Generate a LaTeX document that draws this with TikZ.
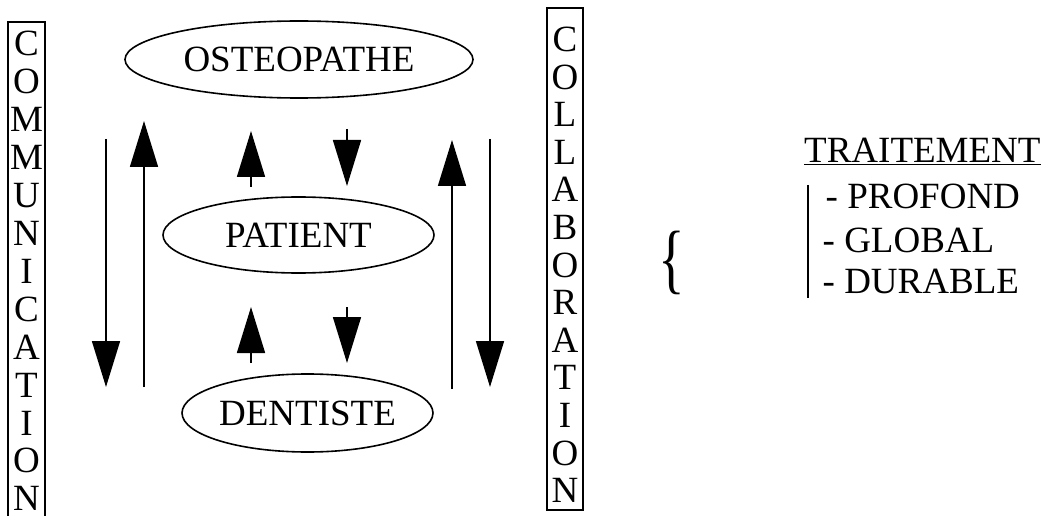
\documentclass[tikz,border=0pt]{standalone}
\usepackage{fontspec}
\setmainfont{Liberation Serif}
\usetikzlibrary{shapes.geometric,arrows.meta}

\begin{document}
\begin{tikzpicture}[
    x = 1pt, y = -1pt,
    every node/.style = {font = \fontsize{37}{38}\selectfont, inner sep = 0pt},
    person/.style = {ellipse, draw, line width = 1.6pt},
    letterbox/.style = {draw, line width = 2.2pt, minimum width = 37pt},
    letter/.style = {anchor = base},
    flow/.style = {line width = 1.6pt, -{Triangle[width = 28pt, length = 46pt]}}]

\clip (0,0) rectangle (1045,516);
\useasboundingbox (0,0) rectangle (1045,516);

\node[letterbox, minimum height = 520pt] (comm) at (26.5,282) {};
\foreach \l [count = \i from 0] in {C,O,M,M,U,N,I,C,A,T,I,O,N}
    \node[letter] (comm\i) at (26.5,56+37.9*\i) {\l};
\node[letterbox, minimum width = 36pt, minimum height = 502pt] (colla) at (565,259) {};
\foreach \l [count = \i from 0] in {C,O,L,L,A,B,O,R,A,T,I,O,N}
    \node[letter] (colla\i) at (565,51.5+37.6*\i) {\l};

\node[person, minimum width = 348pt, minimum height = 77pt] (osteo) at (299,59.5) {OSTEOPATHE};
\node[person, minimum width = 271pt, minimum height = 76pt] (patient) at (298.5,235) {PATIENT};
\node[person, minimum width = 251pt, minimum height = 78pt] (dentiste) at (307.5,413) {DENTISTE};

\coordinate (a1) at (106,139);  \coordinate (a2) at (106,387);
\coordinate (b1) at (144,387);  \coordinate (b2) at (144,121);
\coordinate (c1) at (251,187);  \coordinate (c2) at (251,131);
\coordinate (d1) at (347,129);  \coordinate (d2) at (347,186);
\coordinate (e1) at (251,363);  \coordinate (e2) at (251,307);
\coordinate (f1) at (347,307);  \coordinate (f2) at (347,363);
\coordinate (g1) at (452,389);  \coordinate (g2) at (452,140);
\coordinate (h1) at (490,139);  \coordinate (h2) at (490,387);
\foreach \s in {a,b,c,d,e,f,g,h}
    \draw[flow] (\s1) -- (\s2);

\node[anchor = base west, font = \fontsize{77}{77}\selectfont] (brace) at (658,284) {\scalebox{0.72}[1]{\{}};

\node[anchor = base west] (traitement) at (804,163) {\underline{TRAITEMENT}};
\node[anchor = base west] (profond) at (825.5,208) {- PROFOND};
\node[anchor = base west] (global) at (822.5,252) {- GLOBAL};
\node[anchor = base west] (durable) at (822.5,293) {- DURABLE};
\draw[line width = 1.8pt] (808,185) -- (808,298);
\end{tikzpicture}
\end{document}
